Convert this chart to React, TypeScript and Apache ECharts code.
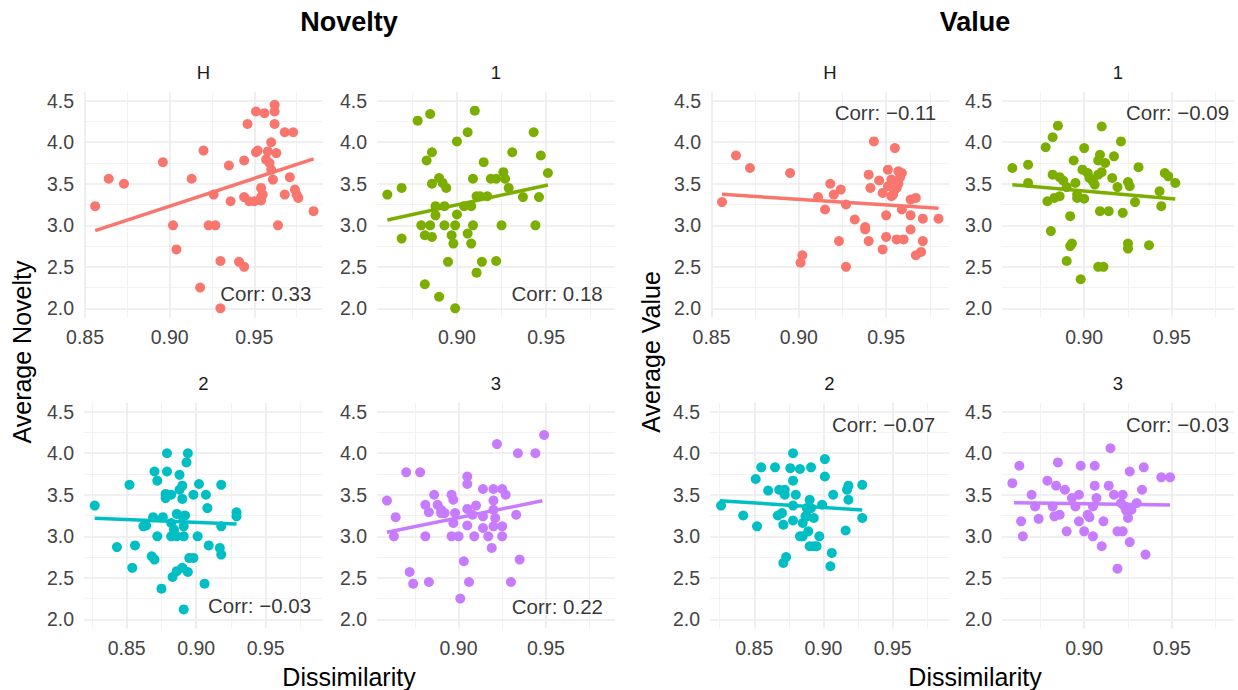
import React, { useEffect, useRef } from "react";
import * as echarts from "echarts";

const FONT = "'Liberation Sans', Arial, Helvetica, sans-serif";

// ---------------- data ----------------
const groupTitles = ["Novelty", "Value"];
const yTitles = ["Average Novelty", "Average Value"];
const xTitle = "Dissimilarity";
const facetLabels = ["H", "1", "2", "3"];
const facetColors = ["#F8766D", "#7CAE00", "#00BFC4", "#C77CFF"];

const noveltyH: number[][] = [
  [0.856, 3.23], [0.864, 3.56], [0.873, 3.5], [0.896, 3.76], [0.902, 3.0], [0.904, 2.71], [0.913, 3.56],
  [0.92, 3.9], [0.918, 2.25], [0.923, 3.0], [0.927, 3.0], [0.926, 3.37], [0.93, 2.57], [0.93, 2.0],
  [0.935, 3.72], [0.936, 3.29], [0.941, 2.56], [0.944, 2.5], [0.944, 3.78], [0.946, 4.22], [0.944, 3.34],
  [0.947, 3.29], [0.951, 4.37], [0.956, 4.35], [0.951, 3.88], [0.952, 3.9], [0.954, 3.45], [0.954, 3.34],
  [0.954, 3.3], [0.958, 3.89], [0.957, 3.79], [0.959, 3.75], [0.96, 4.0], [0.96, 3.67], [0.961, 3.55],
  [0.962, 4.45], [0.962, 4.37], [0.962, 4.22], [0.963, 3.87], [0.964, 3.0], [0.968, 3.37], [0.968, 4.12],
  [0.973, 4.12], [0.971, 3.58], [0.974, 3.43], [0.975, 3.37], [0.976, 3.33], [0.985, 3.17], [0.955, 3.37],
  [0.95, 3.29],
];
const novelty1: number[][] = [
  [0.861, 3.37], [0.869, 3.45], [0.869, 2.84], [0.878, 4.26], [0.885, 4.34], [0.883, 3.78], [0.886, 3.88],
  [0.88, 3.0], [0.882, 2.88], [0.885, 3.0], [0.886, 2.86], [0.882, 2.29], [0.89, 2.14], [0.886, 3.5],
  [0.89, 3.57], [0.892, 3.51], [0.894, 3.45], [0.888, 3.23], [0.888, 3.12], [0.893, 3.23], [0.893, 3.0],
  [0.895, 2.56], [0.897, 2.88], [0.898, 2.78], [0.899, 2.0], [0.899, 3.0], [0.9, 4.01], [0.9, 3.13],
  [0.906, 4.12], [0.906, 2.9], [0.908, 2.78], [0.908, 3.23], [0.909, 3.56], [0.91, 4.38], [0.909, 3.0],
  [0.911, 2.43], [0.911, 3.35], [0.914, 2.56], [0.915, 3.76], [0.917, 3.35], [0.919, 3.56], [0.922, 3.56],
  [0.922, 2.57], [0.925, 3.0], [0.926, 3.64], [0.927, 3.56], [0.929, 3.45], [0.931, 3.88], [0.937, 3.34],
  [0.943, 4.12], [0.944, 3.0], [0.946, 3.34], [0.947, 3.84], [0.951, 3.63], [0.904, 3.23], [0.913, 3.35],
];
const novelty2: number[][] = [
  [0.827, 3.37], [0.843, 2.87], [0.852, 3.62], [0.856, 2.89], [0.854, 2.62], [0.862, 3.12], [0.864, 3.13],
  [0.869, 3.23], [0.87, 3.78], [0.872, 3.67], [0.872, 3.0], [0.868, 2.76], [0.87, 2.72], [0.875, 2.37],
  [0.876, 3.23], [0.878, 3.51], [0.879, 4.0], [0.879, 3.78], [0.878, 3.46], [0.882, 3.5], [0.882, 3.0],
  [0.883, 2.51], [0.886, 2.58], [0.886, 3.0], [0.886, 3.27], [0.888, 3.74], [0.888, 3.56], [0.89, 3.61],
  [0.89, 3.24], [0.89, 3.45], [0.891, 3.0], [0.891, 3.12], [0.891, 2.12], [0.89, 2.62], [0.892, 3.25],
  [0.894, 4.0], [0.893, 3.89], [0.894, 2.57], [0.895, 2.74], [0.898, 2.74], [0.898, 3.5], [0.901, 3.0],
  [0.902, 3.63], [0.906, 2.43], [0.907, 3.5], [0.908, 3.34], [0.909, 2.89], [0.917, 2.86], [0.918, 2.78],
  [0.918, 3.62], [0.918, 3.12], [0.929, 3.29], [0.929, 3.24], [0.884, 3.08], [0.882, 3.16],
];
const novelty3: number[][] = [
  [0.859, 3.43], [0.864, 3.23], [0.863, 3.0], [0.87, 3.77], [0.872, 2.57], [0.874, 2.43], [0.878, 3.77],
  [0.881, 3.0], [0.881, 3.38], [0.883, 2.45], [0.886, 3.5], [0.883, 3.29], [0.888, 3.38], [0.89, 3.32],
  [0.892, 3.28], [0.896, 3.5], [0.897, 3.44], [0.896, 3.0], [0.897, 3.16], [0.898, 3.28], [0.9, 3.0],
  [0.901, 2.25], [0.903, 2.7], [0.905, 3.72], [0.905, 3.63], [0.905, 3.33], [0.905, 3.13], [0.906, 2.45],
  [0.908, 3.26], [0.909, 3.0], [0.91, 3.37], [0.914, 3.1], [0.914, 3.57], [0.917, 3.0], [0.919, 2.86],
  [0.92, 3.57], [0.92, 3.43], [0.92, 3.32], [0.92, 3.12], [0.921, 3.22], [0.922, 4.11], [0.925, 3.0],
  [0.925, 3.57], [0.925, 3.12], [0.927, 3.5], [0.93, 2.45], [0.933, 3.26], [0.934, 4.0], [0.935, 2.72],
  [0.944, 4.0], [0.949, 4.22], [0.89, 3.28], [0.914, 3.24],
];
const valueH: number[][] = [
  [0.856, 3.28], [0.864, 3.84], [0.872, 3.69], [0.895, 3.63], [0.901, 2.55], [0.902, 2.64], [0.911, 3.34],
  [0.915, 3.19], [0.918, 3.5], [0.92, 3.37], [0.924, 3.43], [0.923, 2.81], [0.927, 3.25], [0.927, 2.5],
  [0.932, 3.07], [0.938, 2.98], [0.938, 2.95], [0.94, 3.61], [0.94, 2.81], [0.941, 3.45], [0.943, 4.01],
  [0.946, 3.54], [0.948, 2.71], [0.948, 3.39], [0.95, 2.86], [0.95, 3.12], [0.951, 3.67], [0.951, 3.47],
  [0.953, 3.55], [0.954, 3.37], [0.955, 3.93], [0.956, 3.45], [0.956, 2.83], [0.957, 3.65], [0.958, 3.58],
  [0.959, 3.19], [0.959, 3.63], [0.96, 2.83], [0.953, 3.35], [0.964, 2.95], [0.964, 3.12], [0.964, 3.31],
  [0.967, 3.33], [0.967, 2.64], [0.97, 2.68], [0.971, 2.81], [0.971, 3.08], [0.98, 3.08], [0.955, 3.43],
  [0.957, 3.5],
];
const value1: number[][] = [
  [0.859, 3.69], [0.868, 3.73], [0.868, 3.51], [0.878, 3.94], [0.882, 4.06], [0.885, 4.2], [0.882, 3.61],
  [0.879, 3.29], [0.883, 3.33], [0.886, 3.35], [0.881, 2.93], [0.886, 3.58], [0.888, 3.54], [0.89, 3.46],
  [0.892, 3.11], [0.893, 2.78], [0.892, 2.75], [0.89, 2.57], [0.894, 3.78], [0.895, 3.51], [0.896, 3.33],
  [0.898, 2.35], [0.9, 3.93], [0.899, 3.67], [0.9, 3.32], [0.902, 3.63], [0.903, 3.57], [0.905, 3.53],
  [0.906, 3.49], [0.908, 3.61], [0.909, 3.85], [0.908, 3.78], [0.908, 2.5], [0.911, 2.5], [0.909, 3.17],
  [0.914, 3.17], [0.91, 4.19], [0.912, 3.75], [0.91, 3.64], [0.916, 3.57], [0.917, 3.83], [0.919, 3.46],
  [0.921, 4.01], [0.922, 3.15], [0.925, 3.52], [0.925, 2.78], [0.925, 2.72], [0.926, 3.47], [0.929, 3.28],
  [0.931, 3.7], [0.937, 2.76], [0.943, 3.41], [0.944, 3.23], [0.946, 3.63], [0.948, 3.59], [0.952, 3.51],
  [0.896, 3.37],
];
const value2: number[][] = [
  [0.826, 3.37], [0.842, 3.25], [0.852, 3.12], [0.851, 3.69], [0.855, 3.83], [0.86, 3.55], [0.865, 3.83],
  [0.867, 3.25], [0.868, 3.56], [0.87, 3.28], [0.871, 3.14], [0.871, 2.68], [0.873, 2.75], [0.872, 3.56],
  [0.872, 3.5], [0.876, 3.82], [0.878, 4.0], [0.878, 3.67], [0.878, 3.37], [0.878, 3.19], [0.88, 3.5],
  [0.883, 3.81], [0.883, 3.0], [0.885, 3.0], [0.885, 3.16], [0.887, 3.24], [0.888, 3.34], [0.889, 3.06],
  [0.89, 3.44], [0.89, 2.88], [0.891, 3.83], [0.893, 3.22], [0.893, 2.88], [0.895, 2.88], [0.897, 3.0],
  [0.899, 3.38], [0.901, 3.93], [0.901, 3.72], [0.905, 2.64], [0.906, 2.8], [0.907, 3.5], [0.916, 3.07],
  [0.917, 3.56], [0.918, 3.61], [0.918, 3.44], [0.928, 3.22], [0.928, 3.62], [0.888, 3.24], [0.891, 3.34],
];
const value3: number[][] = [
  [0.859, 3.64], [0.863, 3.85], [0.864, 3.18], [0.865, 3.0], [0.87, 3.5], [0.872, 3.36], [0.874, 3.21],
  [0.879, 3.67], [0.882, 3.36], [0.883, 3.24], [0.884, 3.61], [0.885, 3.89], [0.886, 3.26], [0.889, 3.56],
  [0.89, 3.06], [0.893, 3.46], [0.895, 3.36], [0.897, 3.5], [0.897, 3.18], [0.898, 3.85], [0.9, 3.06],
  [0.902, 3.26], [0.903, 3.23], [0.905, 3.0], [0.905, 3.36], [0.906, 3.85], [0.906, 3.61], [0.907, 3.46],
  [0.91, 2.88], [0.911, 3.18], [0.914, 3.61], [0.915, 4.06], [0.917, 3.5], [0.919, 2.61], [0.919, 3.06],
  [0.922, 3.06], [0.922, 3.5], [0.923, 3.36], [0.924, 3.31], [0.925, 3.22], [0.926, 3.78], [0.926, 2.93],
  [0.927, 3.32], [0.93, 3.4], [0.933, 3.56], [0.934, 3.83], [0.935, 2.78], [0.944, 3.71], [0.949, 3.71],
  [0.921, 3.4],
];

// fitted (linear) line end points
const noveltyHFit = [[0.856, 2.935], [0.985, 3.8]];
const novelty1Fit = [[0.861, 3.064], [0.951, 3.486]];
const novelty2Fit = [[0.827, 3.217], [0.929, 3.148]];
const novelty3Fit = [[0.859, 3.048], [0.948, 3.429]];
const valueHFit = [[0.856, 3.373], [0.98, 3.205]];
const value1Fit = [[0.859, 3.489], [0.952, 3.317]];
const value2Fit = [[0.825, 3.429], [0.928, 3.317]];
const value3Fit = [[0.86, 3.405], [0.949, 3.377]];

const noveltyCorr = ["Corr: 0.33", "Corr: 0.18", "Corr: \u22120.03", "Corr: 0.22"];
const valueCorr = ["Corr: \u22120.11", "Corr: \u22120.09", "Corr: \u22120.07", "Corr: \u22120.03"];
// annotation anchor (right end of text) in data units
const noveltyCorrAt = [[0.984, 2.18], [0.982, 2.18], [0.983, 2.17], [0.983, 2.15]];
const valueCorrAt = [[0.979, 4.355], [0.983, 4.355], [0.981, 4.35], [0.983, 4.35]];

const yRange = [1.89, 4.605];

// ---------------- layout ----------------
const ROW_TOP = [92, 403];
const PANEL_H = 225.5;
// [left, width, xMin, xMax] per panel; order: NovH, Nov1, Nov2, Nov3, ValH, Val1, Val2, Val3
const panelBoxes = [
  [84, 239, 0.8494, 0.9906],
  [377, 238, 0.8552, 0.9886],
  [84, 239, 0.8193, 0.9912],
  [377, 238, 0.8533, 0.9896],
  [711, 238, 0.8497, 0.986],
  [1002, 232, 0.8531, 0.9855],
  [710, 239, 0.818, 0.9907],
  [1002, 232, 0.8531, 0.9855],
];

const isMultiple = (v: number, step: number) => Math.abs(v / step - Math.round(v / step)) < 1e-6;

export default function App() {
  const ref = useRef<HTMLDivElement>(null);

  useEffect(() => {
    if (!ref.current) return;
    const chart = echarts.init(ref.current, undefined, { renderer: "svg" });

    const points = [noveltyH, novelty1, novelty2, novelty3, valueH, value1, value2, value3];
    const fits = [noveltyHFit, novelty1Fit, novelty2Fit, novelty3Fit, valueHFit, value1Fit, value2Fit, value3Fit];
    const corrs = [...noveltyCorr, ...valueCorr];
    const corrAt = [...noveltyCorrAt, ...valueCorrAt];

    const grids: any[] = [];
    const xAxes: any[] = [];
    const yAxes: any[] = [];
    const series: any[] = [];
    const graphics: any[] = [];

    const centerText = (x: number, y: number, text: string, fontSize: number, fill: string, extra: any = {}) => ({
      type: "text",
      x,
      y,
      ...extra,
      style: {
        text,
        fontSize,
        fontFamily: FONT,
        fontWeight: extra.fontWeight || "normal",
        fill,
        textAlign: "center",
        textVerticalAlign: "middle",
        align: "center",
        verticalAlign: "middle",
      },
    });

    for (let i = 0; i < 8; i++) {
      const [left, width, xMin, xMax] = panelBoxes[i];
      const row = Math.floor((i % 4) / 2);
      const top = ROW_TOP[row];
      const color = facetColors[i % 4];
      grids.push({ left, top, width, height: PANEL_H, containLabel: false });
      xAxes.push({
        type: "value",
        gridIndex: i,
        min: xMin,
        max: xMax,
        minInterval: 0.05,
        maxInterval: 0.05,
        axisLine: { show: false },
        axisTick: { show: false },
        axisLabel: {
          color: "#444444",
          fontSize: 19.5,
          fontFamily: FONT,
          margin: 9,
          formatter: (v: number) => (isMultiple(v, 0.05) ? v.toFixed(2) : ""),
        },
        splitLine: {
          show: true,
          showMinLine: false,
          showMaxLine: false,
          lineStyle: { color: "#EBEBEB", width: 1.6 },
        },
        minorTick: { show: false, splitNumber: 2 },
        minorSplitLine: { show: true, lineStyle: { color: "#EFEFEF", width: 0.8 } },
      });
      yAxes.push({
        type: "value",
        gridIndex: i,
        min: yRange[0],
        max: yRange[1],
        minInterval: 0.5,
        maxInterval: 0.5,
        axisLine: { show: false },
        axisTick: { show: false },
        axisLabel: {
          color: "#444444",
          fontSize: 19.5,
          fontFamily: FONT,
          margin: 10,
          formatter: (v: number) => (isMultiple(v, 0.5) ? v.toFixed(1) : ""),
        },
        splitLine: {
          show: true,
          showMinLine: false,
          showMaxLine: false,
          lineStyle: { color: "#EBEBEB", width: 1.6 },
        },
        minorTick: { show: false, splitNumber: 2 },
        minorSplitLine: { show: true, lineStyle: { color: "#EFEFEF", width: 0.8 } },
      });
      series.push({
        type: "scatter",
        xAxisIndex: i,
        yAxisIndex: i,
        data: points[i],
        symbolSize: 10,
        itemStyle: { color, opacity: 1 },
        silent: true,
        z: 2,
      });
      series.push({
        type: "line",
        xAxisIndex: i,
        yAxisIndex: i,
        data: fits[i],
        symbol: "none",
        showSymbol: false,
        lineStyle: { color, width: 3.5 },
        silent: true,
        z: 3,
      });
      series.push({
        type: "scatter",
        xAxisIndex: i,
        yAxisIndex: i,
        data: [corrAt[i]],
        symbolSize: 1,
        itemStyle: { color: "transparent" },
        silent: true,
        z: 4,
        label: {
          show: true,
          formatter: corrs[i],
          position: "left",
          distance: 0,
          color: "#000000",
          fontSize: 20.5,
          fontFamily: FONT,
        },
      });
      graphics.push(centerText(left + width / 2, top - 20, facetLabels[i % 4], 18.5, "#1A1A1A"));
    }

    const groupCenters = [349, 975];
    const yTitleX = [22, 651];
    for (let g = 0; g < 2; g++) {
      graphics.push(centerText(groupCenters[g], 22, groupTitles[g], 27, "#000000", { fontWeight: "bold" }));
      graphics.push(centerText(groupCenters[g], 677, xTitle, 25, "#000000"));
      graphics.push(centerText(yTitleX[g], 352, yTitles[g], 25, "#000000", { rotation: Math.PI / 2 }));
    }

    chart.setOption({
      animation: false,
      backgroundColor: "#FFFFFF",
      textStyle: { fontFamily: FONT },
      grid: grids,
      xAxis: xAxes,
      yAxis: yAxes,
      series,
      graphic: { elements: graphics },
    });

    return () => chart.dispose();
  }, []);

  return (
    <div
      ref={ref}
      style={{ position: "absolute", left: 0, top: 0, width: 1238, height: 690, background: "#fff" }}
    />
  );
}
